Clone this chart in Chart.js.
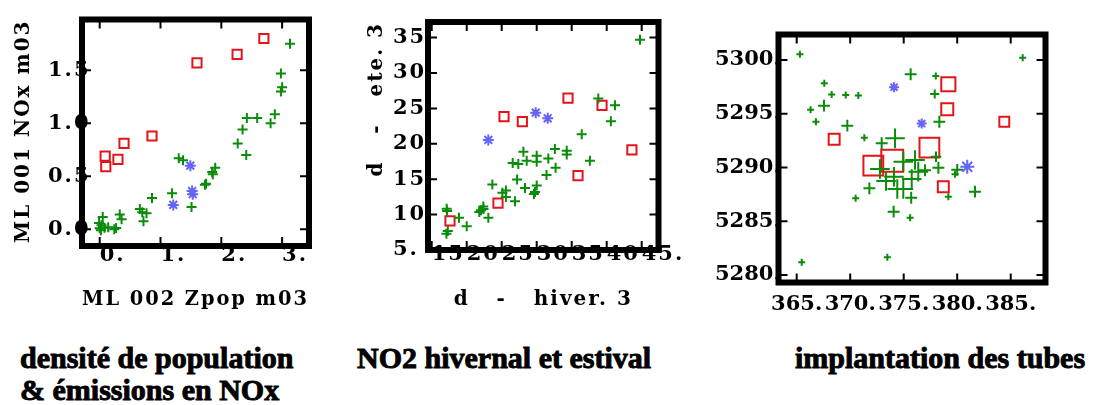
<!DOCTYPE html>
<html>
<head>
<meta charset="utf-8">
<script src="https://cdn.jsdelivr.net/npm/chart.js@4/dist/chart.umd.min.js"></script>
<style>
  html, body { margin: 0; padding: 0; background: #fff; overflow: hidden; }
  .panel { position: absolute; top: 0; }
  .titre {
    position: absolute;
    font-family: 'Liberation Serif', 'Times New Roman', serif;
    font-weight: bold;
    font-size: 30px;
    line-height: 32px;
    color: #000;
    white-space: pre;
    -webkit-text-stroke: 0.9px #000;
  }
</style>
</head>
<body>
<div class="panel" style="left:0px"><canvas id="c1" width="340" height="330"></canvas></div>
<div class="panel" style="left:340px"><canvas id="c2" width="350" height="330"></canvas></div>
<div class="panel" style="left:690px"><canvas id="c3" width="404" height="330"></canvas></div>

<div class="titre" style="left:20px; top:342px">densité de population
&amp; émissions en NOx</div>
<div class="titre" style="left:357px; top:342px">NO2 hivernal et estival</div>
<div class="titre" style="left:795px; top:342px">implantation des tubes</div>

<script>
// ---- panel 1 : densité de population & émissions NOx
const ticksX1 = [0, 1, 2, 3];
const labelsX1 = ['0.', '1.', '2.', '3.'];
const ticksY1 = [0, 0.5, 1, 1.5];
const labelsY1 = ['0.0', '0.5', '1.0', '1.5'];

const p1VertX = [3.13, 2.98, 3.00, 2.98, 2.88, 2.81, 2.59, 2.42, 2.35, 2.27, 2.41, 1.90, 1.85, 1.86, 1.75, 1.73, 1.51, 1.19, 1.30, 1.37, 0.86, 0.66, 0.70, 0.77, 0.72, 0.33, 0.36, 0.27, 0.24, 0.05, 0.03, 0.00, 0.08, 0.14, 0.02, -0.01];
const p1VertY = [1.75, 1.47, 1.34, 1.30, 1.085, 1.00, 1.05, 1.05, 0.94, 0.81, 0.70, 0.58, 0.54, 0.52, 0.43, 0.42, 0.21, 0.34, 0.67, 0.65, 0.295, 0.19, 0.16, 0.15, 0.075, 0.14, 0.094, 0.012, 0.0, 0.116, 0.038, 0.01, 0.015, 0.02, -0.01, 0.06];
const p1BleuX = [1.49, 1.52, 1.53, 1.21];
const p1BleuY = [0.60, 0.36, 0.33, 0.23];
const p1RougeX = [2.70, 2.26, 1.60, 0.86, 0.40, 0.30, 0.09, 0.10];
const p1RougeY = [1.80, 1.65, 1.57, 0.88, 0.81, 0.66, 0.69, 0.59];

// ---- panel 2 : NO2 hiver / été
const ticksX2 = [15, 20, 25, 30, 35, 40, 45];
const labelsX2 = ['15', '20', '25', '30', '35', '40', '45.'];
const ticksY2 = [5, 10, 15, 20, 25, 30, 35];
const labelsY2 = ['5.', '10', '15', '20', '25', '30', '35'];

const p2VertX = [44.76, 38.8, 41.19, 40.6, 36.43, 37.6, 34.29, 34.29, 32.6, 32.7, 31.66, 31.4, 30.0, 30.0, 30.0, 29.76, 29.6, 28.57, 28.1, 28.33, 27.37, 26.57, 27.2, 26.9, 25.6, 25.6, 25.1, 23.66, 23.09, 22.37, 22.04, 21.8, 22.4, 20.0, 18.9, 17.14, 17.2, 17.1, 17.3];
const p2VertY = [34.68, 26.4, 25.46, 23.2, 21.35, 17.6, 19.0, 18.5, 19.25, 16.6, 17.94, 15.6, 18.3, 17.47, 14.1, 13.2, 12.9, 17.6, 18.87, 13.74, 17.15, 17.3, 14.94, 11.9, 13.4, 12.5, 13.1, 14.24, 9.57, 11.16, 10.6, 10.37, 10.8, 8.35, 9.57, 10.83, 10.5, 7.3, 7.7];
const p2BleuX = [29.86, 31.57, 23.09];
const p2BleuY = [24.4, 23.6, 20.55];
const p2RougeX = [34.47, 39.33, 25.33, 27.95, 43.6, 35.9, 24.47, 17.61];
const p2RougeY = [26.44, 25.42, 23.83, 23.13, 19.15, 15.5, 11.63, 9.11];

// ---- panel 3 : implantation des tubes (poids = taille relative du symbole)
const ticksX3 = [365, 370, 375, 380, 385];
const labelsX3 = ['365.', '370.', '375.', '380.', '385.'];
const ticksY3 = [5280, 5285, 5290, 5295, 5300];
const labelsY3 = ['5280.', '5285.', '5290.', '5295.', '5300.'];

const p3VertX = [365.3, 386.12, 375.65, 378.0, 377.9, 367.58, 368.27, 369.58, 370.76, 366.3, 367.55, 366.8, 369.73, 378.33, 371.32, 372.94, 374.19, 374.96, 376.06, 376.36, 375.75, 376.99, 378.02, 378.24, 372.78, 374.09, 373.35, 374.4, 374.96, 375.7, 371.79, 370.51, 374.06, 375.6, 379.17, 379.8, 380.0, 381.66, 373.47, 365.47];
const p3VertY = [5300.53, 5300.21, 5298.67, 5298.51, 5296.84, 5297.83, 5296.8, 5296.74, 5296.7, 5295.38, 5295.75, 5294.26, 5293.89, 5294.26, 5292.77, 5292.25, 5292.71, 5290.54, 5290.7, 5289.61, 5288.93, 5289.74, 5291.0, 5289.98, 5289.86, 5289.14, 5288.74, 5288.0, 5288.0, 5287.19, 5288.06, 5287.13, 5285.89, 5285.33, 5287.28, 5289.37, 5289.78, 5287.75, 5281.65, 5281.18];
const p3VertPoids = [1, 1, 1.7, 1, 1.3, 1, 1, 1, 1, 1, 1.7, 1, 1.7, 1.7, 1, 1.7, 2.8, 2.8, 2.8, 2.8, 2.8, 1.7, 1.5, 1.7, 2.8, 2.8, 2.8, 2.8, 2.8, 1.7, 1.7, 1, 1.7, 1, 1, 1, 1.7, 1.7, 1, 1];
const p3BleuX = [374.1, 376.68, 380.94];
const p3BleuY = [5297.46, 5294.08, 5290.07];
const p3BleuPoids = [1, 1, 1.4];
const p3RougeX = [379.17, 379.07, 384.4, 368.5, 377.4, 373.93, 372.16, 378.7];
const p3RougeY = [5297.74, 5295.41, 5294.26, 5292.62, 5291.84, 5290.63, 5290.17, 5288.21];
const p3RougePoids = [2.0, 1.7, 1.4, 1.55, 2.8, 3.1, 2.8, 1.55];

const VERT = '#0a8c0a', ROUGE = '#e3151b', BLEU = '#6464f5';
const SERIF = "'DejaVu Serif', 'Liberation Serif', serif";

const pts = (xs, ys) => xs.map((x, i) => ({ x, y: ys[i] }));

// wide letter spacing of the original axis texts
const espacement = {
  id: 'espacement',
  beforeDraw(chart, args, opts) { chart.ctx.letterSpacing = (opts.px || 0) + 'px'; },
  afterDraw(chart) { chart.ctx.letterSpacing = '0px'; }
};

// thick black frame with inward tick marks (drawn last, so it covers the label edges)
const cadre = {
  id: 'cadre',
  afterDraw(chart) {
    const { ctx, chartArea: a, scales } = chart;
    const L = 9;
    ctx.save();
    ctx.strokeStyle = '#000';
    ctx.lineWidth = 2;
    ctx.beginPath();
    scales.x.ticks.forEach(t => {
      const px = scales.x.getPixelForValue(t.value);
      ctx.moveTo(px, a.top); ctx.lineTo(px, a.top + L);
      ctx.moveTo(px, a.bottom); ctx.lineTo(px, a.bottom - L);
    });
    scales.y.ticks.forEach(t => {
      const py = scales.y.getPixelForValue(t.value);
      ctx.moveTo(a.left, py); ctx.lineTo(a.left + L, py);
      ctx.moveTo(a.right, py); ctx.lineTo(a.right - L, py);
    });
    ctx.stroke();
    ctx.lineWidth = 6;
    ctx.strokeRect(a.left, a.top, a.right - a.left, a.bottom - a.top);
    ctx.restore();
  }
};

// mirror:true keeps chart.js from clipping the labels to the axis box,
// so they can run under the frame like in the original
function axe(cfg) {
  return {
    type: 'linear',
    min: cfg.min,
    max: cfg.max,
    afterBuildTicks: s => { s.ticks = cfg.ticks.map(v => ({ value: v })); },
    afterFit: s => { if (s.isHorizontal()) s.height = cfg.size; else s.width = cfg.size; },
    grid: { display: false, drawTicks: false, tickLength: 0 },
    border: { display: false },
    ticks: {
      autoSkip: false, maxRotation: 0, minRotation: 0,
      mirror: !!cfg.mirror,
      align: cfg.align || 'center',
      padding: cfg.pad,
      color: '#000',
      font: { family: SERIF, size: 21, weight: 'bold' },
      callback: (v, i) => cfg.labels[i]
    },
    title: cfg.title ? {
      display: true, text: cfg.title, color: '#000', align: cfg.titleAlign || 'center',
      font: { family: SERIF, size: 20, weight: 'bold' },
      padding: cfg.titlePad
    } : { display: false }
  };
}

function jeux(vert, bleu, rouge, rv, rb, rr) {
  return [
    { data: bleu, pointStyle: 'star', borderColor: BLEU, backgroundColor: BLEU, borderWidth: 2, pointRadius: rb },
    { data: vert, pointStyle: 'cross', borderColor: VERT, backgroundColor: VERT, borderWidth: 2, pointRadius: rv },
    { data: rouge, pointStyle: 'rect', borderColor: ROUGE, backgroundColor: 'rgba(0,0,0,0)', borderWidth: 2, pointRadius: rr }
  ];
}

function graphe(id, datasets, padding, x, y, esp) {
  new Chart(document.getElementById(id), {
    type: 'scatter',
    data: { datasets },
    options: {
      responsive: false,
      animation: false,
      layout: { padding },
      plugins: { legend: { display: false }, tooltip: { enabled: false }, espacement: { px: esp } },
      elements: { point: { hoverRadius: 0 } },
      scales: { x, y }
    },
    plugins: [espacement, cadre]
  });
}

// panel 1
graphe('c1',
  jeux(pts(p1VertX, p1VertY), pts(p1BleuX, p1BleuY), pts(p1RougeX, p1RougeY), 5, 5.5, 6.5),
  { left: 0, top: 19.5, right: 31, bottom: 0 },
  axe({ min: -0.291, max: 3.442, ticks: ticksX1, labels: labelsX1, size: 84, mirror: true, pad: -22, align: 'start',
        title: 'ML 002 Zpop m03', titlePad: { top: 0, bottom: 18 } }),
  axe({ min: -0.158, max: 1.979, ticks: ticksY1, labels: labelsY1, size: 82, mirror: true, pad: -34,
        title: 'ML 001 NOx m03', titleAlign: 'end', titlePad: { top: 12, bottom: 0 } }),
  2
);

// panel 2
graphe('c2',
  jeux(pts(p2VertX, p2VertY), pts(p2BleuX, p2BleuY), pts(p2RougeX, p2RougeY), 5, 5.5, 6.5),
  { left: 0, top: 22, right: 31.5, bottom: 0 },
  axe({ min: 14.47, max: 47.4, ticks: ticksX2, labels: labelsX2, size: 80, mirror: true, pad: -17, align: 'start',
        title: 'd   -   hiver. 3', titlePad: { top: 0, bottom: 18 } }),
  axe({ min: 5, max: 37.2, ticks: ticksY2, labels: labelsY2, size: 88, mirror: true, pad: -35,
        title: 'd   -   ete. 3', titleAlign: 'end', titlePad: { top: 25, bottom: 0 } }),
  2
);

// panel 3 : symbol size follows the weight arrays
graphe('c3',
  jeux(pts(p3VertX, p3VertY), pts(p3BleuX, p3BleuY), pts(p3RougeX, p3RougeY),
       p3VertPoids.map(w => 3.5 * w), p3BleuPoids.map(w => 5 * w), p3RougePoids.map(w => 5 * w)),
  { left: 0, top: 34.5, right: 48.5, bottom: 0 },
  axe({ min: 363.3, max: 388.25, ticks: ticksX3, labels: labelsX3, size: 47.5, pad: 9.5 }),
  axe({ min: 5279.3, max: 5302.37, ticks: ticksY3, labels: labelsY3, size: 88.5, mirror: true, pad: -63.5 }),
  0
);
</script>
</body>
</html>
